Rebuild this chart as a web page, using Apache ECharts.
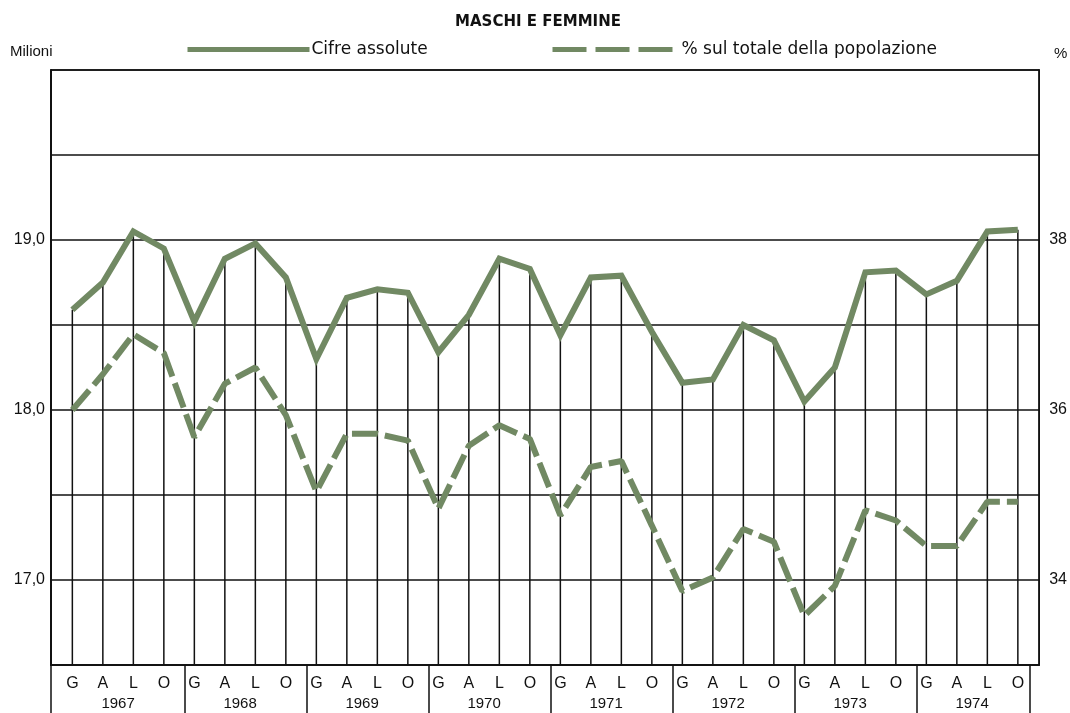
<!DOCTYPE html>
<html>
<head>
<meta charset="utf-8">
<script src="https://cdn.jsdelivr.net/npm/echarts@6/dist/echarts.min.js"></script>
<style>
  html, body { margin: 0; padding: 0; background: #fff; }
  #chart { width: 1070px; height: 713px; }
</style>
</head>
<body>
<div id="chart"></div>
<script>
  // trimestri: Gennaio, Aprile, Luglio, Ottobre
  var quarters = ['G', 'A', 'L', 'O'];
  var years = ['1967', '1968', '1969', '1970', '1971', '1972', '1973', '1974'];

  // cifre assolute (milioni)
  var cifreAssolute = [
    18.59, 18.75, 19.05, 18.95,
    18.52, 18.89, 18.98, 18.78,
    18.30, 18.66, 18.71, 18.69,
    18.34, 18.56, 18.89, 18.83,
    18.44, 18.78, 18.79, 18.46,
    18.16, 18.18, 18.50, 18.41,
    18.05, 18.25, 18.81, 18.82,
    18.68, 18.76, 19.05, 19.06
  ];

  // % sul totale della popolazione
  var percentuale = [
    36.00, 36.42, 36.89, 36.67,
    35.68, 36.31, 36.50, 35.94,
    35.04, 35.72, 35.72, 35.64,
    34.84, 35.58, 35.82, 35.66,
    34.76, 35.33, 35.40, 34.64,
    33.87, 34.03, 34.60, 34.45,
    33.58, 33.93, 34.82, 34.70,
    34.40, 34.40, 34.92, 34.92
  ];

  var leftLabels = [17, 18, 19];
  var rightLabels = [34, 36, 38];

  var lineColor = '#718963';
  var font = 'Liberation Sans';

  var idx = cifreAssolute.map(function (v, i) { return i; });
  var solidData = cifreAssolute.map(function (v, i) { return [i, v]; });
  var pctData = percentuale.map(function (v, i) { return [i, v]; });
  // confini e centri degli anni sull'asse (4 trimestri per anno)
  var yearEdges = [-0.7];
  var yearCenters = [];
  years.forEach(function (y, k) {
    yearCenters.push(4 * k + 1.5);
    yearEdges.push(k < years.length - 1 ? 4 * k + 3.68 : 4 * k + 3.4);
  });

  var chart = echarts.init(document.getElementById('chart'));
  var option = {
    backgroundColor: '#fff',
    animation: false,
    title: [
      {
        text: 'MASCHI E FEMMINE',
        left: 533, textAlign: 'center', top: 10,
        textStyle: { fontFamily: 'DejaVu Sans', fontSize: 15, fontWeight: 'bold', color: '#111' }
      },
      {
        text: 'Milioni',
        left: 10, top: 44, padding: 0,
        textStyle: { fontFamily: font, fontSize: 15, fontWeight: 'normal', color: '#111' }
      },
      {
        text: '%',
        left: 1054, top: 46, padding: 0,
        textStyle: { fontFamily: font, fontSize: 15, fontWeight: 'normal', color: '#111' }
      }
    ],
    legend: [
      {
        data: [{ name: 'Cifre assolute' }],
        left: 180, top: 36,
        itemWidth: 122, itemHeight: 12, itemGap: 4,
        lineStyle: { width: 5 },
        itemStyle: { opacity: 0 },
        textStyle: { fontFamily: 'DejaVu Sans', fontSize: 17, color: '#111', padding: [0, 0, 0, -3] }
      },
      {
        data: [{ name: '% sul totale della popolazione', lineStyle: { type: [34, 9] } }],
        left: 545, top: 36,
        itemWidth: 124, itemHeight: 12, itemGap: 4,
        lineStyle: { width: 5 },
        itemStyle: { opacity: 0 },
        textStyle: { fontFamily: 'DejaVu Sans', fontSize: 17, color: '#111' }
      }
    ],
    grid: {
      left: 51, right: 27, top: 70, bottom: 48,
      show: true, borderColor: '#111', borderWidth: 1.5, backgroundColor: 'transparent'
    },
    xAxis: [
      {
        type: 'value', min: -0.7, max: 31.7, position: 'bottom', offset: 0,
        axisLine: { show: true, onZero: false, lineStyle: { color: '#111', width: 1.5 } },
        axisTick: { show: false },
        splitLine: { show: false },
        axisLabel: {
          customValues: idx,
          formatter: function (v) { return quarters[Math.round(v) % 4]; },
          margin: 11,
          fontFamily: font, fontSize: 16, color: '#111'
        }
      },
      {
        type: 'value', min: -0.7, max: 31.7, position: 'bottom', offset: 0,
        axisLine: { show: false, onZero: false },
        axisTick: {
          show: true, customValues: yearEdges, length: 50, inside: false,
          lineStyle: { color: '#111', width: 1.5 }
        },
        splitLine: { show: false },
        axisLabel: {
          customValues: yearCenters,
          formatter: function (v) { return years[Math.round((v - 1.5) / 4)]; },
          margin: 31,
          fontFamily: font, fontSize: 15, color: '#111'
        }
      }
    ],
    yAxis: [
      {
        type: 'value', min: 16.5, max: 20, interval: 0.5, position: 'left',
        axisLine: { show: true, onZero: false, lineStyle: { color: '#111', width: 2 } },
        axisTick: { show: false },
        splitLine: { show: true, lineStyle: { color: '#111', width: 1.5 } },
        axisLabel: {
          margin: 6,
          fontFamily: font, fontSize: 16, color: '#111',
          formatter: function (v) {
            return leftLabels.indexOf(v) >= 0 ? v.toFixed(1).replace('.', ',') : '';
          }
        }
      },
      {
        type: 'value', min: 33, max: 40, interval: 1, position: 'right',
        axisLine: { show: true, onZero: false, lineStyle: { color: '#111', width: 1.5 } },
        axisTick: { show: false },
        splitLine: { show: false },
        axisLabel: {
          margin: 10,
          fontFamily: font, fontSize: 16, color: '#111',
          formatter: function (v) {
            return rightLabels.indexOf(v) >= 0 ? String(v) : '';
          }
        }
      }
    ],
    series: [
      {
        name: 'riferimenti',
        type: 'bar',
        xAxisIndex: 0, yAxisIndex: 0,
        data: solidData,
        barWidth: 1.5,
        itemStyle: { color: '#111' },
        clip: true,
        z: 1,
        silent: true
      },
      {
        name: 'Cifre assolute',
        type: 'line',
        xAxisIndex: 0, yAxisIndex: 0,
        data: solidData,
        symbol: 'none',
        lineStyle: { color: lineColor, width: 6, join: 'miter' },
        itemStyle: { color: lineColor },
        z: 3
      },
      {
        name: '% sul totale della popolazione',
        type: 'line',
        xAxisIndex: 0, yAxisIndex: 1,
        data: pctData,
        symbol: 'none',
        lineStyle: { color: lineColor, width: 6, type: [26, 7] },
        itemStyle: { color: lineColor },
        z: 3
      }
    ]
  };
  chart.setOption(option);
</script>
</body>
</html>
